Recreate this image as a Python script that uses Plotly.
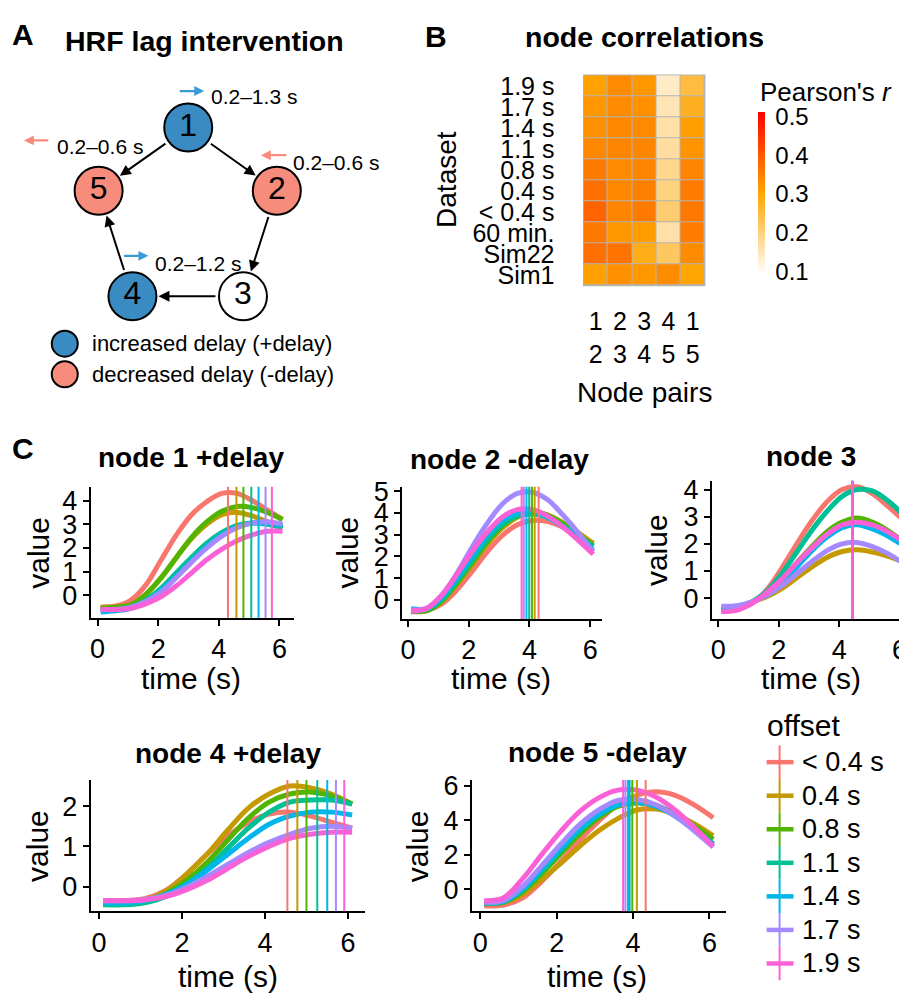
import plotly.graph_objects as go

W, H = 907, 995
FONT = "Liberation Sans"
OFF = 8  # page body margin of the html page

def PX(x):
    return (x - OFF) / W

def PY(y):
    return 1 - (y - OFF) / H

# ---------------- data ----------------
node_ids = ["1", "2", "3", "4", "5"]
node_x = [187, 276, 242, 131, 97]
node_y = [119, 183, 290, 290, 183]
node_fill = ["#3a8bc2", "#f88c7c", "#ffffff", "#3a8bc2", "#f88c7c"]
edges = [("1", "5"), ("1", "2"), ("2", "3"), ("3", "4"), ("4", "5")]
lag_labels = ["0.2–1.3 s", "0.2–0.6 s", "0.2–0.6 s", "0.2–1.2 s"]

pair_labels = ["1<br>2", "2<br>3", "3<br>4", "4<br>5", "1<br>5"]
dataset_labels = ["1.9 s", "1.7 s", "1.4 s", "1.1 s", "0.8 s", "0.4 s",
                  "&lt; 0.4 s", "60 min.", "Sim22", "Sim1"]
corr = [
    [0.307, 0.335, 0.320, 0.142, 0.251],
    [0.320, 0.335, 0.330, 0.155, 0.277],
    [0.330, 0.340, 0.338, 0.166, 0.310],
    [0.340, 0.345, 0.343, 0.174, 0.325],
    [0.358, 0.338, 0.345, 0.190, 0.345],
    [0.370, 0.340, 0.350, 0.200, 0.355],
    [0.386, 0.345, 0.358, 0.212, 0.360],
    [0.360, 0.320, 0.315, 0.166, 0.355],
    [0.370, 0.365, 0.283, 0.225, 0.335],
    [0.310, 0.330, 0.320, 0.335, 0.305],
]
cbar_ticks = [0.1, 0.2, 0.3, 0.4, 0.5]

time_s = [0.1, 0.6, 1.1, 1.6, 2.1, 2.6, 3.1, 3.6, 4.1, 4.6, 5.1, 5.6, 6.1]
offset_labels = ["&lt; 0.4 s", "0.4 s", "0.8 s", "1.1 s", "1.4 s", "1.7 s", "1.9 s"]
offset_colors = ["#F8766D", "#C49A00", "#53B400", "#00C094", "#00B6EB", "#A58AFF", "#FB61D7"]

node1_values = [
    [-0.50, -0.45, -0.20, 0.45, 1.50, 2.55, 3.40, 3.95, 4.30, 4.30, 4.00, 3.60, 3.20],
    [-0.50, -0.50, -0.40, 0.05, 0.75, 1.60, 2.40, 3.00, 3.40, 3.50, 3.35, 3.10, 2.85],
    [-0.55, -0.50, -0.40, 0.05, 0.75, 1.60, 2.45, 3.10, 3.55, 3.75, 3.70, 3.50, 3.20],
    [-0.60, -0.60, -0.50, -0.20, 0.30, 0.95, 1.60, 2.20, 2.65, 2.95, 3.05, 3.00, 2.85],
    [-0.70, -0.65, -0.55, -0.25, 0.20, 0.80, 1.45, 2.05, 2.55, 2.90, 3.05, 3.05, 2.95],
    [-0.60, -0.60, -0.50, -0.25, 0.15, 0.75, 1.40, 2.00, 2.50, 2.85, 3.05, 3.10, 3.00],
    [-0.60, -0.60, -0.55, -0.35, -0.05, 0.40, 0.95, 1.50, 1.95, 2.30, 2.55, 2.70, 2.70],
]
node1_peaks = [4.30, 4.58, 4.81, 5.07, 5.31, 5.54, 5.75]

node2_values = [
    [-0.55, -0.50, -0.20, 0.45, 1.30, 2.20, 2.95, 3.45, 3.65, 3.60, 3.35, 3.00, 2.60],
    [-0.50, -0.50, -0.10, 0.70, 1.60, 2.55, 3.30, 3.80, 4.00, 3.90, 3.55, 3.10, 2.60],
    [-0.50, -0.50, -0.05, 0.75, 1.70, 2.65, 3.40, 3.90, 4.05, 3.90, 3.50, 3.00, 2.50],
    [-0.50, -0.45, 0.00, 0.85, 1.80, 2.75, 3.45, 3.85, 3.95, 3.80, 3.40, 2.95, 2.45],
    [-0.40, -0.40, 0.10, 1.00, 2.00, 2.95, 3.65, 4.00, 4.05, 3.80, 3.35, 2.85, 2.30],
    [-0.45, -0.40, 0.20, 1.20, 2.40, 3.50, 4.40, 4.90, 4.95, 4.60, 3.90, 3.10, 2.20],
    [-0.50, -0.40, 0.20, 1.15, 2.20, 3.10, 3.80, 4.15, 4.15, 3.85, 3.35, 2.75, 2.10],
]
node2_peaks = [4.30, 4.17, 4.08, 3.99, 3.90, 3.81, 3.74]

node3_values = [
    [-0.45, -0.40, -0.20, 0.30, 1.10, 2.00, 2.85, 3.55, 4.00, 4.10, 3.85, 3.40, 2.90],
    [-0.40, -0.35, -0.15, 0.05, 0.35, 0.75, 1.15, 1.50, 1.72, 1.78, 1.70, 1.55, 1.35],
    [-0.40, -0.35, -0.15, 0.20, 0.70, 1.30, 1.90, 2.45, 2.80, 2.95, 2.80, 2.50, 2.10],
    [-0.40, -0.35, -0.15, 0.25, 0.90, 1.70, 2.50, 3.20, 3.75, 4.00, 3.95, 3.60, 3.10],
    [-0.40, -0.35, -0.15, 0.15, 0.60, 1.15, 1.75, 2.25, 2.60, 2.70, 2.55, 2.30, 1.95],
    [-0.30, -0.28, -0.15, 0.10, 0.45, 0.90, 1.35, 1.75, 2.00, 2.05, 1.90, 1.65, 1.30],
    [-0.50, -0.45, -0.20, 0.20, 0.70, 1.30, 1.85, 2.35, 2.70, 2.80, 2.70, 2.45, 2.10],
]
node3_peaks = [4.44, 4.44, 4.44, 4.44, 4.44, 4.44, 4.44]

node4_values = [
    [-0.35, -0.35, -0.30, -0.10, 0.30, 0.80, 1.25, 1.60, 1.80, 1.85, 1.75, 1.60, 1.45],
    [-0.40, -0.40, -0.33, -0.12, 0.30, 0.80, 1.40, 1.95, 2.30, 2.50, 2.45, 2.30, 2.05],
    [-0.40, -0.40, -0.35, -0.18, 0.15, 0.60, 1.15, 1.70, 2.10, 2.30, 2.35, 2.25, 2.05],
    [-0.45, -0.45, -0.40, -0.25, 0.05, 0.45, 0.95, 1.45, 1.85, 2.10, 2.15, 2.15, 2.05],
    [-0.40, -0.40, -0.35, -0.20, 0.05, 0.40, 0.80, 1.20, 1.55, 1.75, 1.85, 1.85, 1.78],
    [-0.35, -0.35, -0.32, -0.22, -0.02, 0.25, 0.55, 0.85, 1.10, 1.30, 1.45, 1.50, 1.45],
    [-0.35, -0.35, -0.33, -0.25, -0.08, 0.15, 0.45, 0.75, 1.00, 1.20, 1.30, 1.35, 1.35],
]
node4_peaks = [4.54, 4.78, 5.00, 5.26, 5.50, 5.71, 5.91]

node5_values = [
    [-0.95, -0.90, -0.50, 0.45, 1.60, 2.85, 3.95, 4.90, 5.45, 5.65, 5.45, 4.90, 4.15],
    [-0.80, -0.75, -0.30, 0.55, 1.50, 2.50, 3.40, 4.10, 4.60, 4.65, 4.35, 3.80, 3.10],
    [-0.80, -0.75, -0.15, 0.90, 2.05, 3.20, 4.15, 4.80, 5.00, 4.85, 4.40, 3.70, 2.90],
    [-0.80, -0.70, -0.05, 1.05, 2.25, 3.40, 4.30, 4.90, 5.05, 4.85, 4.30, 3.50, 2.65],
    [-0.75, -0.70, 0.00, 1.15, 2.35, 3.50, 4.35, 4.90, 5.05, 4.80, 4.25, 3.45, 2.60],
    [-0.75, -0.65, 0.15, 1.35, 2.60, 3.75, 4.60, 5.15, 5.20, 4.90, 4.25, 3.40, 2.45],
    [-0.65, -0.50, 0.60, 2.00, 3.35, 4.50, 5.30, 5.75, 5.75, 5.35, 4.60, 3.60, 2.50],
]
node5_peaks = [4.33, 4.10, 3.98, 3.91, 3.87, 3.80, 3.74]

# ---------------- figure ----------------
fig = go.Figure()
shapes = []
annotations = []

def ann(text, x, y, size, bold=False, xanchor="center", angle=0, color="black"):
    annotations.append(dict(
        text=("<b>%s</b>" % text) if bold else text,
        x=PX(x), y=PY(y), xref="paper", yref="paper",
        xanchor=xanchor, yanchor="middle", showarrow=False, textangle=angle,
        font=dict(family=FONT, size=size, color=color)))

# ---- Panel A ----
fig.add_trace(go.Scatter(
    x=node_x, y=node_y, mode="markers+text", text=node_ids,
    textposition="middle center", textfont=dict(family=FONT, size=32, color="black"),
    marker=dict(size=48, color=node_fill, line=dict(color="black", width=2)),
    xaxis="x7", yaxis="y7", showlegend=False, hoverinfo="skip"))

pos = {n: (x, y) for n, x, y in zip(node_ids, node_x, node_y)}
for a, b in edges:
    annotations.append(dict(
        x=pos[b][0], y=pos[b][1], ax=pos[a][0], ay=pos[a][1],
        xref="x7", yref="y7", axref="x7", ayref="y7", text="",
        showarrow=True, arrowhead=2, arrowsize=1.1, arrowwidth=2,
        arrowcolor="black", standoff=26, startstandoff=26))

blue_arrow = "#3a9ad6"
salmon_arrow = "#f88c7c"
small_arrows = [
    (177, 203, 82, blue_arrow, lag_labels[0], 208, 88),
    (48, 22, 132, salmon_arrow, lag_labels[1], 53, 138),
    (287, 260, 147, salmon_arrow, lag_labels[2], 290, 154),
    (121, 147, 249, blue_arrow, lag_labels[3], 152, 257),
]
for x0, x1, yy, col, lab, lx, ly in small_arrows:
    annotations.append(dict(
        x=x1, y=yy, ax=x0, ay=yy, xref="x7", yref="y7", axref="x7", ayref="y7",
        text="", showarrow=True, arrowhead=2, arrowsize=0.9, arrowwidth=2.2, arrowcolor=col))
    ann(lab, lx, ly, 21, xanchor="left")

fig.add_trace(go.Scatter(
    x=[63, 63], y=[338, 369], mode="markers",
    marker=dict(size=26, color=["#3a8bc2", "#f88c7c"], line=dict(color="black", width=2)),
    xaxis="x7", yaxis="y7", showlegend=False, hoverinfo="skip"))
ann("increased delay (+delay)", 88, 338, 22, xanchor="left")
ann("decreased delay (-delay)", 88, 369, 22, xanchor="left")

ann("A", 21, 25, 30, bold=True)
ann("HRF lag intervention", 203, 31, 28.5, bold=True)

# ---- Panel B ----
fig.add_trace(go.Heatmap(
    z=corr, x=pair_labels, y=dataset_labels,
    colorscale=[[0, "#ffffff"], [0.5, "#ffa500"], [1, "#ff0000"]],
    zmin=0.095, zmax=0.512, xgap=1, ygap=1, hoverinfo="skip",
    colorbar=dict(
        x=PX(759), xanchor="left", y=PY(185), yanchor="middle",
        len=164 / H, lenmode="fraction", thickness=7, thicknessmode="pixels",
        outlinewidth=0, xpad=0, ypad=0, tickvals=cbar_ticks,
        ticktext=[str(v) for v in cbar_ticks],
        ticks="outside", ticklen=6, tickcolor="white",
        tickfont=dict(family=FONT, size=24, color="black")),
    xaxis="x", yaxis="y", showlegend=False))
shapes.append(dict(type="rect", xref="x domain", yref="y domain", x0=-0.004, x1=1.004,
                   y0=-0.004, y1=1.004, fillcolor="#b4b4b4", line=dict(width=0), layer="below"))
ann("B", 436, 27, 30, bold=True)
ann("node correlations", 645, 27, 28.5, bold=True)
ann("Dataset", 447, 172, 28, angle=-90)
ann("Node pairs", 645, 387, 28)
ann("Pearson's <i>r</i>", 759, 83, 26, xanchor="left")

# ---- Panel C ----
panels = [
    (node1_values, node1_peaks, "node 1 +delay", (89, 293), (483, 616), [-0.23, 6.47], [-0.96, 4.58],
     [0, 1, 2, 3, 4], (190, 453), (37, 550), (190, 677)),
    (node2_values, node2_peaks, "node 2 -delay", (402, 603), (483, 617), [-0.19, 6.4], [-0.88, 5.2],
     [0, 1, 2, 3, 4, 5], (500, 455), (347, 550), (501, 677)),
    (node3_values, node3_peaks, "node 3", (713, 907), (477, 617), [-0.21, 6.18], [-0.77, 4.32],
     [0, 1, 2, 3, 4], (813, 452), (658, 547), (813, 677)),
    (node4_values, node4_peaks, "node 4 +delay", (89, 365), (780, 913), [-0.2, 6.42], [-0.61, 2.65],
     [0, 1, 2], (227, 753), (35, 847), (227, 979)),
    (node5_values, node5_peaks, "node 5 -delay", (472, 727), (780, 913), [-0.22, 6.43], [-1.26, 6.34],
     [0, 2, 4, 6], (598, 752), (417, 847), (598, 979)),
]

layout_axes = {}
for i, (vals, peaks, title, xd, yd, xr, yr, yt, tp, vp, tsp) in enumerate(panels):
    k = i + 2
    xa, ya = "x%d" % k, "y%d" % k
    for series, col in zip(vals, offset_colors):
        fig.add_trace(go.Scatter(
            x=time_s, y=series, mode="lines", line=dict(color=col, width=5, shape="spline"),
            xaxis=xa, yaxis=ya, showlegend=False, hoverinfo="skip"))
    for pk, col in zip(peaks, offset_colors):
        shapes.append(dict(type="line", xref=xa, yref="%s domain" % ya, x0=pk, x1=pk, y0=0, y1=1,
                           line=dict(color=col, width=2), layer="above"))
    common = dict(showline=True, linewidth=2, linecolor="black", ticks="outside", ticklen=6,
                  tickwidth=2, tickcolor="black", showgrid=False, zeroline=False,
                  tickmode="array",
                  tickfont=dict(family=FONT, size=27, color="black"))
    layout_axes["xaxis%d" % k] = dict(domain=[PX(xd[0]), min(1.0, PX(xd[1]))], anchor=ya, range=xr,
                                      tickvals=[0, 2, 4, 6], **common)
    layout_axes["yaxis%d" % k] = dict(domain=[PY(yd[1]), PY(yd[0])], anchor=xa, range=yr,
                                      tickvals=yt, **common)
    ann(title, tp[0], tp[1], 28, bold=True)
    ann("value", vp[0], vp[1], 30, angle=-90)
    ann("time (s)", tsp[0], tsp[1], 30)

ann("C", 21, 444, 30, bold=True)

# custom legend for offset
ann("offset", 766, 725, 30, xanchor="left")
for j, (lab, col) in enumerate(zip(offset_labels, offset_colors)):
    yy = 762 + j * 34
    shapes.append(dict(type="line", xref="paper", yref="paper", x0=PX(768), x1=PX(795),
                       y0=PY(yy), y1=PY(yy), line=dict(color=col, width=4.5)))
    shapes.append(dict(type="line", xref="paper", yref="paper", x0=PX(781), x1=PX(781),
                       y0=PY(yy - 17), y1=PY(yy + 17), line=dict(color=col, width=2)))
    ann(lab, 802, yy, 27, xanchor="left")

fig.update_layout(
    width=W, height=H, margin=dict(l=0, r=0, t=0, b=0),
    paper_bgcolor="white", plot_bgcolor="rgba(0,0,0,0)",
    font=dict(family=FONT, color="black"),
    showlegend=False,
    xaxis=dict(domain=[PX(584), PX(706)], anchor="y", type="category", ticks="",
               tickmode="array", tickvals=pair_labels, ticktext=pair_labels,
               showline=False, showgrid=False, zeroline=False, ticklabelstandoff=19,
               tickfont=dict(family=FONT, size=25, color="black")),
    yaxis=dict(domain=[PY(279), PY(66)], anchor="x", type="category", autorange="reversed",
               tickmode="array", tickvals=dataset_labels, ticktext=dataset_labels,
               ticks="", showline=False, showgrid=False, zeroline=False, ticklabelstandoff=28,
               tickfont=dict(family=FONT, size=25, color="black")),
    xaxis7=dict(domain=[0, PX(420)], anchor="y7", range=[OFF, 420], visible=False),
    yaxis7=dict(domain=[PY(400), PY(40)], anchor="x7", range=[400, 40], visible=False),
    shapes=shapes, annotations=annotations,
    **layout_axes)

fig.write_html("out.html")
